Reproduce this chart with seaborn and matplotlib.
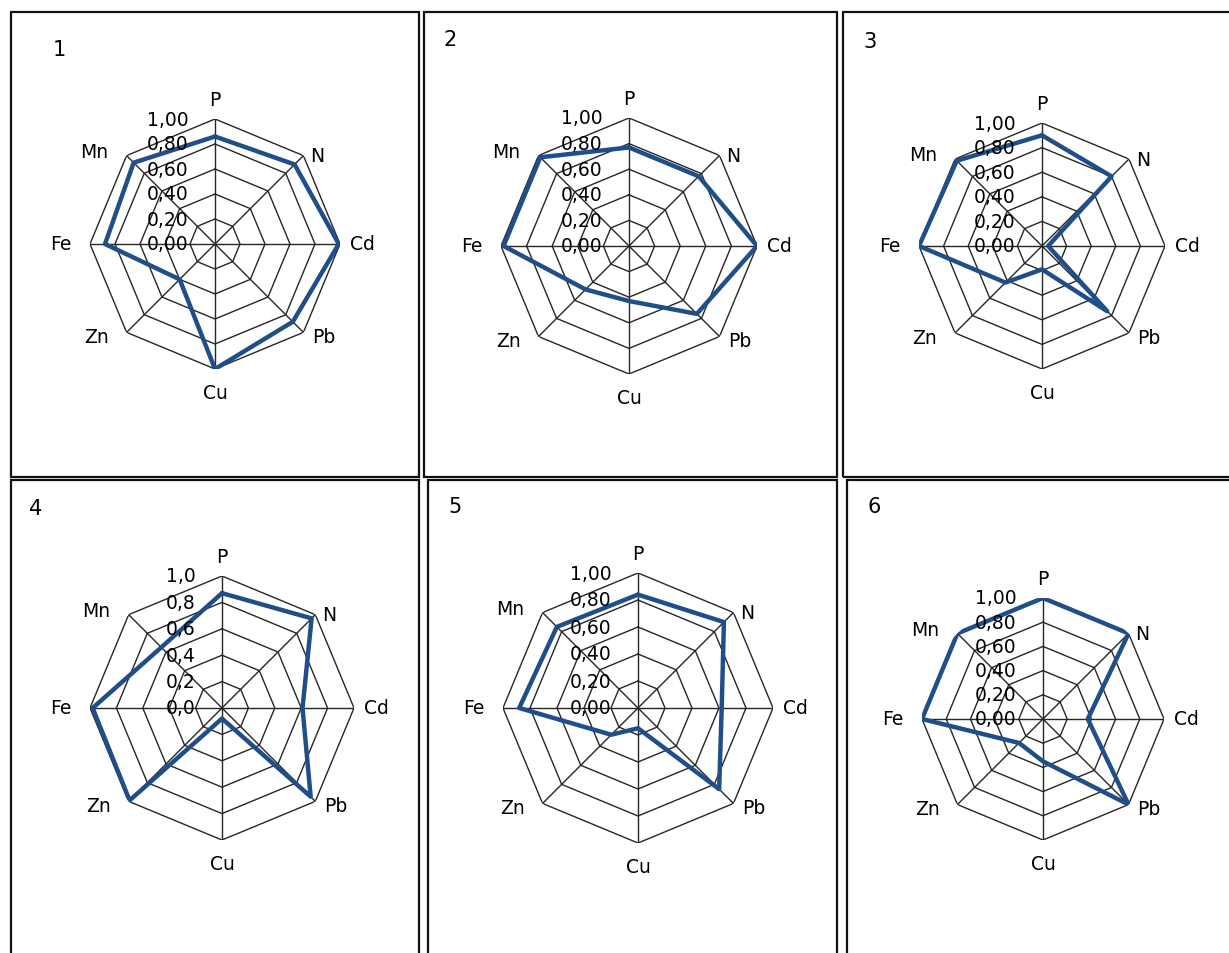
import numpy as np
import pandas as pd
import seaborn as sns
import matplotlib.pyplot as plt
from matplotlib.patches import Rectangle

# categorias (sentido horário a partir do topo)
categorias = ['P', 'N', 'Cd', 'Pb', 'Cu', 'Zn', 'Fe', 'Mn']

# valores normalizados de cada gráfico
v1 = [0.86, 0.90, 0.99, 0.88, 1.00, 0.40, 0.88, 0.92]
v2 = [0.77, 0.77, 1.00, 0.75, 0.43, 0.48, 0.98, 0.98]
v3 = [0.90, 0.80, 0.05, 0.75, 0.19, 0.42, 1.00, 0.98]
v4 = [0.87, 0.96, 0.61, 0.95, 0.08, 0.99, 0.98, 0.65]
v5 = [0.84, 0.90, 0.62, 0.85, 0.15, 0.28, 0.88, 0.85]
v6 = [1.00, 1.00, 0.37, 1.00, 0.35, 0.28, 1.00, 1.00]

niveis = [0.0, 0.2, 0.4, 0.6, 0.8, 1.0]
rotulos_2 = ['0,00', '0,20', '0,40', '0,60', '0,80', '1,00']
rotulos_1 = ['0,0', '0,2', '0,4', '0,6', '0,8', '1,0']

numeros = ['1', '2', '3', '4', '5', '6']

W, H = 1229, 954
azul = '#1F4E89'
cinza = '#262626'

sns.set_theme(style='white')
plt.rcParams['font.family'] = ['DejaVu Sans']
plt.rcParams['text.color'] = 'black'

fig = plt.figure(figsize=(W / 100, H / 100), dpi=100)
fig.patch.set_facecolor('white')

# caixas (px): x0, y0, x1, y1
caixas = [(11, 13, 419, 478), (424, 13, 837, 478), (843, 13, 1240, 478),
          (11, 481, 419, 970), (428, 481, 837, 970), (847, 481, 1240, 970)]
# centro e raio de cada radar (px)
centros = [(215, 245, 125), (629, 247, 128), (1042, 247, 123),
           (222, 709, 132), (638, 709, 135), (1043, 720, 121)]
pos_num = [(59, 50), (450, 40), (870, 42), (36, 509), (455, 507), (874, 507)]

dados = [v1, v2, v3, v4, v5, v6]
rotulos = [rotulos_2, rotulos_2, rotulos_2, rotulos_1, rotulos_2, rotulos_2]

n = len(categorias)
ang = np.arange(n) * 2 * np.pi / n
ang_f = np.append(ang, 2 * np.pi)

# deslocamentos dos nomes (pt)
offs = [((0, 7), 'center', 'bottom'), ((5, 0), 'left', 'center'),
        ((7, 0), 'left', 'center'), ((6, -3), 'left', 'center'),
        ((0, -10), 'center', 'top'), ((-13, -3), 'right', 'center'),
        ((-13, 0), 'right', 'center'), ((-13, 3), 'right', 'center')]

for k in range(6):
    x0, y0, x1, y1 = caixas[k]
    fig.add_artist(Rectangle((x0 / W, 1 - y1 / H), (x1 - x0) / W, (y1 - y0) / H,
                             transform=fig.transFigure, fill=False,
                             edgecolor='#111111', lw=1.6))
    nx, ny = pos_num[k]
    fig.text(nx / W, 1 - ny / H, numeros[k], ha='center', va='center', fontsize=15)

    cx, cy, r = centros[k]
    ax = fig.add_axes([(cx - r) / W, 1 - (cy + r) / H, 2 * r / W, 2 * r / H],
                      projection='polar')
    ax.set_theta_zero_location('N')
    ax.set_theta_direction(-1)
    ax.set_ylim(0, 1)
    ax.set_axis_off()

    # grade octogonal
    for lv in niveis[1:]:
        ax.plot(ang_f, [lv] * (n + 1), color=cinza, lw=1.0)
    for t in ang:
        ax.plot([t, t], [0, 1], color=cinza, lw=1.0)

    df = pd.DataFrame({'ang': ang_f, 'val': dados[k] + [dados[k][0]]})
    sns.lineplot(data=df, x='ang', y='val', sort=False, estimator=None,
                 color=azul, lw=3.2, ax=ax)
    ax.set_axis_off()

    for lv, txt in zip(niveis, rotulos[k]):
        ax.annotate(txt, xy=(0, lv), xytext=(-19, 0), textcoords='offset points',
                    ha='right', va='center', fontsize=13.5, annotation_clip=False)
    for t, nome, (o, ha, va) in zip(ang, categorias, offs):
        ax.annotate(nome, xy=(t, 1.0), xytext=o, textcoords='offset points',
                    ha=ha, va=va, fontsize=13.5, annotation_clip=False)

fig.savefig('out.png', dpi=100)
